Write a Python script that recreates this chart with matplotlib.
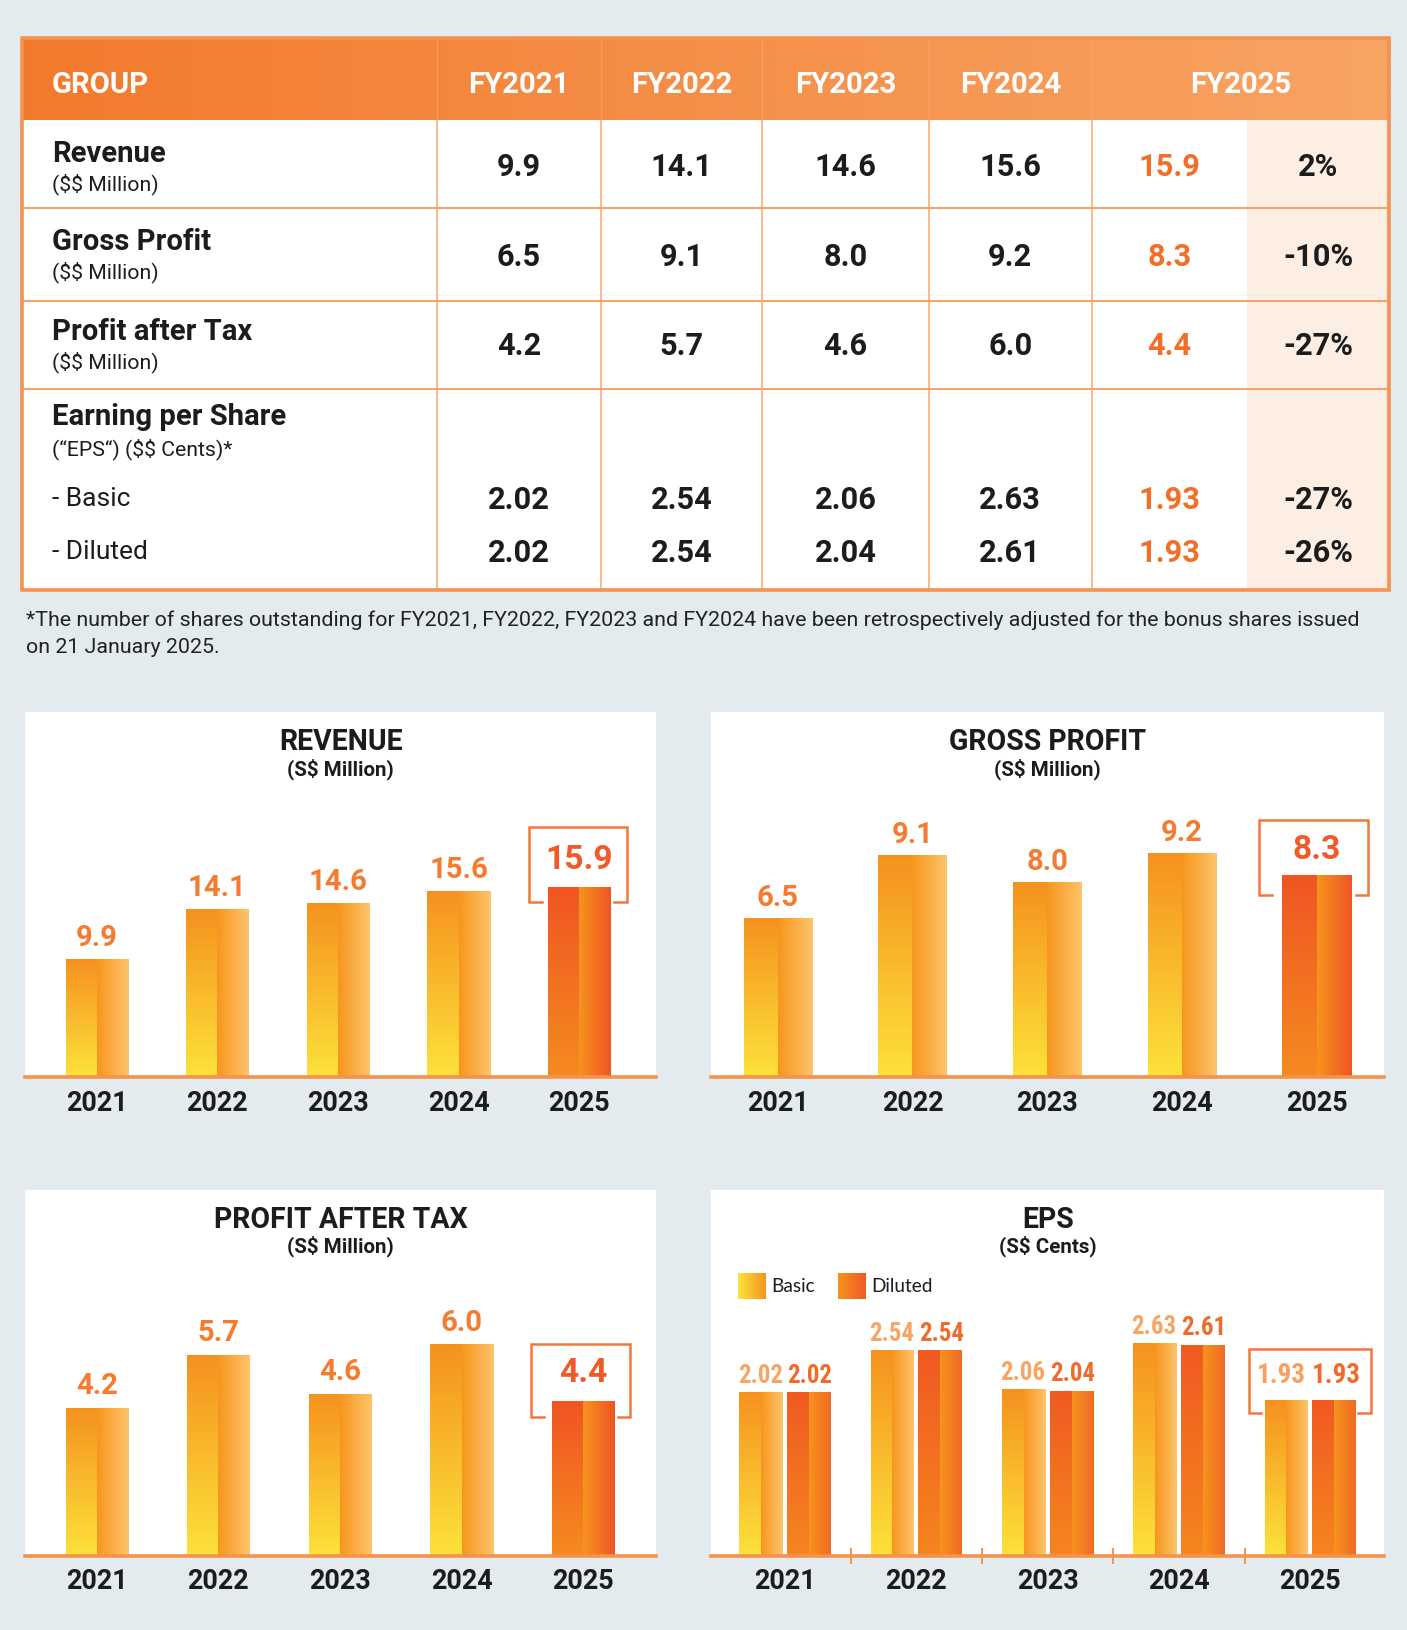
import numpy as np
import matplotlib.pyplot as plt
from matplotlib import font_manager
from matplotlib.colors import to_rgb
from matplotlib.patches import Rectangle

plt.switch_backend('agg')

# ---- data ----
years = ['2021', '2022', '2023', '2024', '2025']
fy_labels = ['FY2021', 'FY2022', 'FY2023', 'FY2024', 'FY2025']
revenue = [9.9, 14.1, 14.6, 15.6, 15.9]
gross_profit = [6.5, 9.1, 8.0, 9.2, 8.3]
profit_after_tax = [4.2, 5.7, 4.6, 6.0, 4.4]
eps_basic = [2.02, 2.54, 2.06, 2.63, 1.93]
eps_diluted = [2.02, 2.54, 2.04, 2.61, 1.93]
change_revenue = '2%'
change_gross = '-10%'
change_pat = '-27%'
change_basic = '-27%'
change_diluted = '-26%'
footnote_1 = ('*The number of shares outstanding for FY2021, FY2022, FY2023 and FY2024 '
              'have been retrospectively adjusted for the bonus shares issued')
footnote_2 = 'on 21 January 2025.'

# ---- layout helpers (reference measured on a 1353 px wide copy) ----
W, H = 1407, 1630
S = W / 1353
FONT = ['Roboto', 'DejaVu Sans']
BG = '#e4ebee'
ORANGE = '#f5924c'
LABEL = '#f47b30'
HILITE = '#f05a28'
TXT = '#1c1c1c'

# a narrower face for the tight EPS labels, if one is installed
installed = {f.name for f in font_manager.fontManager.ttflist}
narrow = next((n for n in ['Roboto Condensed', 'Liberation Sans Narrow', 'Open Sans Condensed']
               if n in installed), None)
EPS_FONT = [narrow, 'Roboto', 'DejaVu Sans'] if narrow else FONT
EPS_SCALE = 1.0 if narrow else 0.9


def px(v):
    return v * S


def pts(v):
    return v * S * 0.72


def fs(cap):
    # font size (pt) for a given cap height in reference px
    return cap * S / 0.711 * 0.72


plt.rcParams['font.family'] = FONT
plt.rcParams['text.parse_math'] = False

fig = plt.figure(figsize=(W / 100, H / 100), dpi=100, facecolor=BG)
bg = fig.add_axes([0, 0, 1, 1])
bg.set_xlim(0, W)
bg.set_ylim(H, 0)
bg.axis('off')
bg.set_autoscale_on(False)


def gradient(ax, extent, c_a, c_b, direction, zorder=2):
    t = np.linspace(0, 1, 128)
    ca, cb = np.array(to_rgb(c_a)), np.array(to_rgb(c_b))
    cols = ca + (cb - ca) * t[:, None]
    img = cols[:, None, :] if direction == 'v' else cols[None, :, :]
    ax.imshow(img, extent=extent, origin='lower', aspect='auto',
              interpolation='bilinear', zorder=zorder)


# ---- table ----
T_L, T_R, T_TOP, T_HEAD, T_BOT = 21, 1336, 37, 115, 567
col_edges = [420, 578, 733, 893, 1050]
pct_left = 1199
row_lines = [200, 289, 374]

gradient(bg, [px(T_L), px(T_R), px(T_HEAD), px(T_TOP)], '#f27a2c', '#f8a465', 'h', zorder=1)
bg.add_patch(Rectangle((px(T_L), px(T_HEAD)), px(T_R - T_L), px(T_BOT - T_HEAD),
                       facecolor='white', edgecolor='none', zorder=1))
bg.add_patch(Rectangle((px(pct_left), px(T_HEAD)), px(T_R - pct_left), px(T_BOT - T_HEAD),
                       facecolor='#fdeee4', edgecolor='none', zorder=1))
for x in col_edges:
    bg.plot([px(x), px(x)], [px(T_HEAD), px(T_BOT)], color='#f7a86e', lw=1.1, zorder=2)
    bg.plot([px(x), px(x)], [px(T_TOP), px(T_HEAD)], color='#f9b07a', lw=0.8, alpha=0.5, zorder=2)
for y in row_lines:
    bg.plot([px(T_L), px(T_R)], [px(y), px(y)], color='#f6a064', lw=1.4, zorder=2)
bg.add_patch(Rectangle((px(T_L), px(T_TOP)), px(T_R - T_L), px(T_BOT - T_TOP),
                       facecolor='none', edgecolor=ORANGE, lw=2.6, zorder=3))

col_centers = [(a + b) / 2 for a, b in zip(col_edges[:-1], col_edges[1:])]
fy25_center = (col_edges[-1] + T_R) / 2
val25_center = (col_edges[-1] + pct_left) / 2
pct_center = (pct_left + T_R) / 2

bg.text(px(50), px(79), 'GROUP', color='white', fontsize=fs(20), fontweight='bold',
        ha='left', va='center_baseline', zorder=4)
for x, lab in zip(col_centers + [fy25_center], fy_labels):
    bg.text(px(x), px(79), lab, color='white', fontsize=fs(20), fontweight='bold',
            ha='center', va='center_baseline', zorder=4)

rows = [
    ('Revenue', '($$ Million)', 148, 177, 161, revenue, '{:.1f}', change_revenue),
    ('Gross Profit', '($$ Million)', 233, 262, 247, gross_profit, '{:.1f}', change_gross),
    ('Profit after Tax', '($$ Million)', 319, 348, 333, profit_after_tax, '{:.1f}', change_pat),
]
for title, sub, ty, sy, vy, vals, fmt, chg in rows:
    bg.text(px(50), px(ty), title, color=TXT, fontsize=fs(20), fontweight='bold',
            ha='left', va='center', zorder=4)
    bg.text(px(50), px(sy), sub, color=TXT, fontsize=fs(14.5), ha='left', va='center', zorder=4)
    for x, v in zip(col_centers, vals[:4]):
        bg.text(px(x), px(vy), fmt.format(v), color=TXT, fontsize=fs(21), fontweight='bold',
                ha='center', va='center', zorder=4)
    bg.text(px(val25_center), px(vy), fmt.format(vals[4]), color='#f26f2a', fontsize=fs(21),
            fontweight='bold', ha='center', va='center', zorder=4)
    bg.text(px(pct_center), px(vy), chg, color=TXT, fontsize=fs(21), fontweight='bold',
            ha='center', va='center', zorder=4)

bg.text(px(50), px(401), 'Earning per Share', color=TXT, fontsize=fs(20), fontweight='bold',
        ha='left', va='center', zorder=4)
bg.text(px(50), px(432), '(\u201cEPS\u201c) ($$ Cents)*', color=TXT, fontsize=fs(14.5),
        ha='left', va='center', zorder=4)
for lab, ly, vals, chg in [('- Basic', 481, eps_basic, change_basic),
                           ('- Diluted', 532, eps_diluted, change_diluted)]:
    bg.text(px(50), px(ly - 1), lab, color=TXT, fontsize=fs(18), ha='left', va='center', zorder=4)
    for x, v in zip(col_centers, vals[:4]):
        bg.text(px(x), px(ly), f'{v:.2f}', color=TXT, fontsize=fs(21), fontweight='bold',
                ha='center', va='center', zorder=4)
    bg.text(px(val25_center), px(ly), f'{vals[4]:.2f}', color='#f26f2a', fontsize=fs(21),
            fontweight='bold', ha='center', va='center', zorder=4)
    bg.text(px(pct_center), px(ly), chg, color=TXT, fontsize=fs(21), fontweight='bold',
            ha='center', va='center', zorder=4)

# footnote, sized to fit the measured width
fn1 = bg.text(px(25), px(596), footnote_1, color='#222222', fontsize=14,
              ha='left', va='center')
fn2 = bg.text(px(25), px(623), footnote_2, color='#222222', fontsize=14,
              ha='left', va='center')
fig.canvas.draw()
w_now = fn1.get_window_extent().width
new_size = 14 * px(1312 - 25) / w_now
fn1.set_fontsize(new_size)
fn2.set_fontsize(new_size)

# ---- charts ----
NORMAL = (('#fde23a', '#f5921f'), ('#f7961d', '#fdc46c'))
RED = (('#f58b1f', '#f05523'), ('#f7931e', '#ef5524'))
DILUTED = (('#f5861f', '#f05a22'), ('#f7931e', '#f06a24'))


def panel(rect, xlim, ytop):
    l, t, r, b = [px(v) for v in rect]
    ax = fig.add_axes([l / W, 1 - b / H, (r - l) / W, (b - t) / H])
    ax.set_facecolor('white')
    ax.set_xlim(*xlim)
    ax.set_ylim(0, ytop)
    ax.set_autoscale_on(False)
    for side in ['top', 'left', 'right']:
        ax.spines[side].set_visible(False)
    ax.spines['bottom'].set_color(ORANGE)
    ax.spines['bottom'].set_linewidth(2.6)
    ax.spines['bottom'].set_zorder(5)
    ax.set_yticks([])
    ax.set_xticks([])
    ax.unit_x = (r - l) / (xlim[1] - xlim[0])
    ax.unit_y = (b - t) / ytop
    return ax


def titles(ax, title, sub):
    ax.annotate(title, xy=(0.5, 1), xycoords='axes fraction', xytext=(0, -pts(29)),
                textcoords='offset points', ha='center', va='center', color=TXT,
                fontsize=fs(19.5), fontweight='bold')
    ax.annotate(sub, xy=(0.5, 1), xycoords='axes fraction', xytext=(0, -pts(54.5)),
                textcoords='offset points', ha='center', va='center', color=TXT,
                fontsize=fs(14), fontweight='bold')
    for i, yr in enumerate(years):
        ax.annotate(yr, xy=(i, 0), xycoords=('data', 'axes fraction'), xytext=(0, -pts(25)),
                    textcoords='offset points', ha='center', va='center', color=TXT,
                    fontsize=fs(18.5), fontweight='bold', annotation_clip=False)


def draw_bars(ax, xs, vals, width, styles):
    bars = ax.bar(xs, vals, width, color='none', edgecolor='none', zorder=2)
    for patch, st in zip(bars.patches, styles):
        x0, w, h = patch.get_x(), patch.get_width(), patch.get_height()
        gradient(ax, [x0, x0 + w / 2, 0, h], st[0][0], st[0][1], 'v')
        gradient(ax, [x0 + w / 2, x0 + w, 0, h], st[1][0], st[1][1], 'h')
    return bars


def label(ax, x, v, text, off, color, size, family=None, dx=0):
    ax.annotate(text, xy=(x, v), xytext=(pts(dx), pts(off)), textcoords='offset points',
                ha='center', va='center', color=color, fontsize=fs(size), fontweight='bold',
                family=family or FONT)


def bracket(ax, xc, v, half, up, down, foot=12):
    dx = px(half) / ax.unit_x
    fx = px(foot) / ax.unit_x
    top = v + px(up) / ax.unit_y
    bot = v - px(down) / ax.unit_y
    ax.plot([xc - dx + fx, xc - dx, xc - dx, xc + dx, xc + dx, xc + dx - fx],
            [bot, bot, top, top, bot, bot], color='#f2773a', lw=1.8, zorder=4,
            solid_joinstyle='miter', clip_on=False)


single = [(revenue, 'REVENUE', (24, 685, 631, 1036), (-0.595, 4.638), 30.65, 60 / 116, 21, 27,
           (47, 59, 13), -0.01),
          (gross_profit, 'GROSS PROFIT', (684, 685, 1331, 1036), (-0.494, 4.502), 15.0, 66 / 129.5,
           20, 24, (52.5, 53, 19), -0.02),
          (profit_after_tax, 'PROFIT AFTER TAX', (24, 1144, 631, 1496), (-0.59, 4.60), 10.4,
           60 / 117, 21, 27, (47.5, 55, 16), -0.02)]

for vals, name, rect, xlim, ytop, width, off, off25, box, shift in single:
    ax = panel(rect, xlim, ytop)
    xs = np.arange(len(vals))
    draw_bars(ax, xs, vals, width, [NORMAL] * 4 + [RED])
    for i, v in enumerate(vals[:4]):
        label(ax, i, v, f'{v:.1f}', off, LABEL, 20)
    label(ax, 4, vals[4], f'{vals[4]:.1f}', off25, HILITE, 23)
    bracket(ax, 4 + shift, vals[4], *box)
    titles(ax, name, '(S$ Million)')

# EPS chart
ax = panel((684, 1144, 1331, 1496), (-0.562, 4.562), 4.53)
xs = np.arange(len(eps_basic))
bw = 42 / 126.25
off = 23 / 126.25
draw_bars(ax, xs - off, eps_basic, bw, [NORMAL] * 5)
draw_bars(ax, xs + off, eps_diluted, bw, [DILUTED] * 5)
for i in range(4):
    label(ax, i - off, eps_basic[i], f'{eps_basic[i]:.2f}', 16, '#f8a462',
          17 * EPS_SCALE, EPS_FONT, dx=-1)
    label(ax, i + off, eps_diluted[i], f'{eps_diluted[i]:.2f}', 16, '#f06a2a',
          17 * EPS_SCALE, EPS_FONT, dx=1)
label(ax, 4 - off, eps_basic[4], f'{eps_basic[4]:.2f}', 23, '#f7a060', 18.5 * EPS_SCALE,
      EPS_FONT, dx=-5)
label(ax, 4 + off, eps_diluted[4], f'{eps_diluted[4]:.2f}', 23, '#f06a2a', 18.5 * EPS_SCALE,
      EPS_FONT, dx=2)
bracket(ax, 3.995, max(eps_basic[4], eps_diluted[4]), 58.5, 49, 13)
titles(ax, 'EPS', '(S$ Cents)')
ax.set_xticks([0.5, 1.5, 2.5, 3.5], minor=True)
ax.tick_params(axis='x', which='minor', length=pts(15), width=1.4, color=ORANGE,
               direction='inout', labelbottom=False)

# legend swatches (reference px -> data coords)
inv = ax.transData.inverted()


def to_data(x, y):
    return inv.transform((px(x), H - px(y)))


for (x0, x1), cols, txt, tx in [((710, 736), ('#fde33a', '#f5951f'), 'Basic', 742),
                                ((806, 832), ('#f6921e', '#ef5a24'), 'Diluted', 838)]:
    (dx0, dy0), (dx1, dy1) = to_data(x0, 1249), to_data(x1, 1224)
    gradient(ax, [dx0, dx1, dy0, dy1], cols[0], cols[1], 'h', zorder=3)
    tx_d, ty_d = to_data(tx, 1237)
    ax.text(tx_d, ty_d, txt, color=TXT, fontsize=fs(13), ha='left', va='center',
            family=['Lato', 'DejaVu Sans'])

fig.savefig('out.png', dpi=100, facecolor=BG)
